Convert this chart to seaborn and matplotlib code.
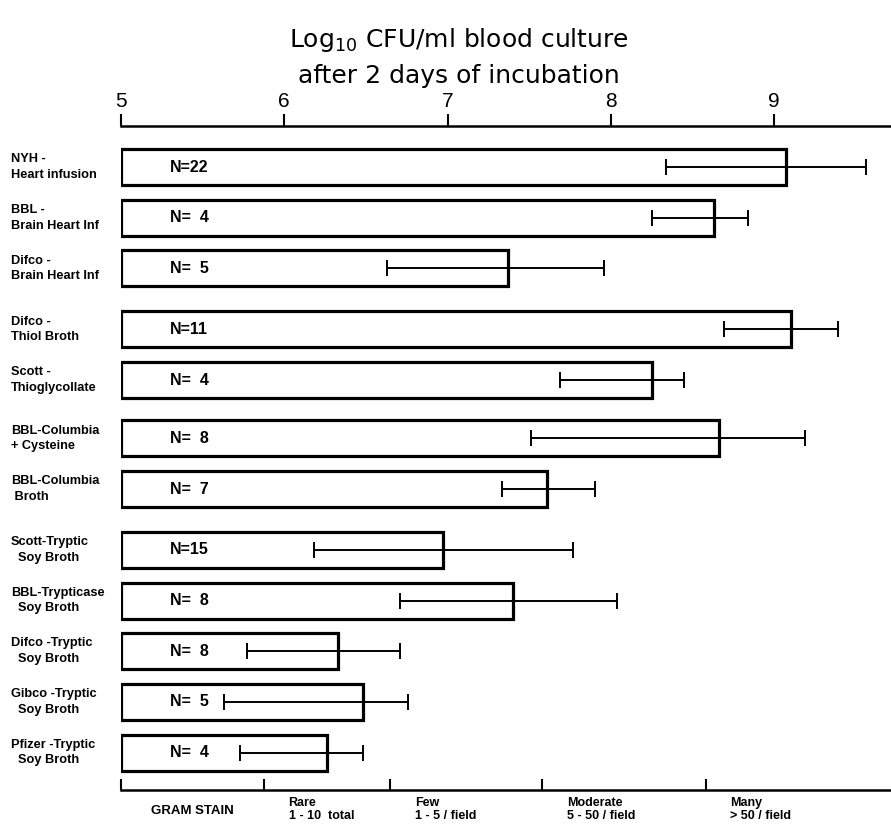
import numpy as np
import pandas as pd
import matplotlib
matplotlib.use("Agg")
import matplotlib.pyplot as plt
import seaborn as sns

# media, mean log10 CFU/ml and range of the error bar
media = ["NYH -\nHeart infusion", "BBL -\nBrain Heart Inf", "Difco -\nBrain Heart Inf",
         "Difco -\nThiol Broth", "Scott -\nThioglycollate", "BBL-Columbia\n+ Cysteine",
         "BBL-Columbia\n Broth", "Scott-Tryptic\n  Soy Broth", "BBL-Trypticase\n  Soy Broth",
         "Difco -Tryptic\n  Soy Broth", "Gibco -Tryptic\n  Soy Broth", "Pfizer -Tryptic\n  Soy Broth"]
n_labels = ["N=22", "N=  4", "N=  5", "N=11", "N=  4", "N=  8",
            "N=  7", "N=15", "N=  8", "N=  8", "N=  5", "N=  4"]
mean_cfu = [9.07, 8.63, 7.37, 9.10, 8.25, 8.66, 7.61, 6.97, 7.40, 6.33, 6.48, 6.26]
err_lo = [8.34, 8.25, 6.63, 8.69, 7.69, 7.51, 7.33, 6.18, 6.71, 5.77, 5.63, 5.73]
err_hi = [9.56, 8.84, 7.96, 9.39, 8.45, 9.19, 7.90, 7.77, 8.04, 6.71, 6.76, 6.48]

# gram stain scale under the chart
gram_bounds = [5.0, 5.876, 6.65, 7.58, 8.58]
gram_labels = ["GRAM STAIN", "Rare\n1 - 10  total", "Few\n1 - 5 / field",
               "Moderate\n5 - 50 / field", "Many\n> 50 / field"]

# row positions, with a little extra room between groups
gap_after = {2: 1.2, 4: 1.15, 6: 1.2}
pos = [0.0]
for i in range(1, len(media)):
    pos.append(pos[-1] + gap_after.get(i - 1, 1.0))

df = pd.DataFrame({"medium": media, "cfu": mean_cfu, "pos": pos})

sns.set_style("white")
plt.rcParams["font.family"] = ["Liberation Sans", "DejaVu Sans"]
plt.rcParams["mathtext.default"] = "regular"
plt.rcParams["text.color"] = "black"
plt.rcParams["xtick.color"] = "black"
plt.rcParams["axes.edgecolor"] = "black"

fig = plt.figure(figsize=(8.91, 8.26), dpi=100)
ax = fig.add_axes([121 / 891, 48 / 826, 1 - 121 / 891, (778 - 126) / 826])

sns.barplot(data=df, x="cfu", y="pos", orient="y", native_scale=True, width=0.71,
            color="white", edgecolor="black", linewidth=2.3, ax=ax)
# bars start at the left edge of the scale (5)
for p in ax.patches:
    p.set_width(p.get_width() - 5)
    p.set_x(5)

xerr = [np.array(mean_cfu) - np.array(err_lo), np.array(err_hi) - np.array(mean_cfu)]
ax.errorbar(mean_cfu, pos, xerr=xerr, fmt="none", ecolor="black", elinewidth=1.4,
            capsize=5.5, capthick=1.4)

for y, lab, nl in zip(pos, media, n_labels):
    ax.text(5.3, y, nl, ha="left", va="center", fontsize=11.5, fontweight="bold")
    ax.annotate(lab, xy=(0, y), xycoords=("figure fraction", "data"),
                xytext=(11, 0), textcoords="offset pixels",
                ha="left", va="center", fontsize=9.2, fontweight="bold", linespacing=1.4)

ax.set_xlim(5, 9.715)
ax.set_ylim(pos[-1] + 0.5, -0.81)
ax.xaxis.tick_top()
ax.set_xticks([5, 6, 7, 8, 9])
ax.tick_params(axis="x", direction="out", length=9, width=1.5, labelsize=15, pad=2,
               colors="black")
ax.set_yticks([])
ax.set_xlabel("")
ax.set_ylabel("")
for side in ["bottom", "left", "right"]:
    ax.spines[side].set_visible(False)
ax.spines["top"].set_linewidth(1.8)

fig.text(0.515, 1 - 40 / 826, "Log$_{10}$ CFU/ml blood culture", ha="center", va="center",
         fontsize=18, family="DejaVu Sans")
fig.text(0.515, 1 - 76 / 826, "after 2 days of incubation", ha="center", va="center",
         fontsize=18, family="DejaVu Sans")

# gram stain scale
gx = fig.add_axes([121 / 891, 0, 1 - 121 / 891, (826 - 790) / 826])
gx.set_xlim(ax.get_xlim())
gx.set_ylim(0, 1)
gx.xaxis.tick_top()
gx.set_xticks(gram_bounds)
gx.set_xticklabels([])
gx.tick_params(axis="x", direction="out", length=8, width=1.5, colors="black")
gx.set_yticks([])
for side in ["bottom", "left", "right"]:
    gx.spines[side].set_visible(False)
gx.spines["top"].set_linewidth(1.8)
for i, (b, lab) in enumerate(zip(gram_bounds, gram_labels)):
    if i == 0:
        gx.text((gram_bounds[0] + gram_bounds[1]) / 2, 0.42, lab, ha="center", va="center",
                fontsize=9.5, fontweight="bold")
    else:
        gx.text(b + 0.15, 0.8, lab, ha="left", va="top", fontsize=9, fontweight="bold",
                linespacing=1.05)

fig.savefig("out.png", dpi=100)
